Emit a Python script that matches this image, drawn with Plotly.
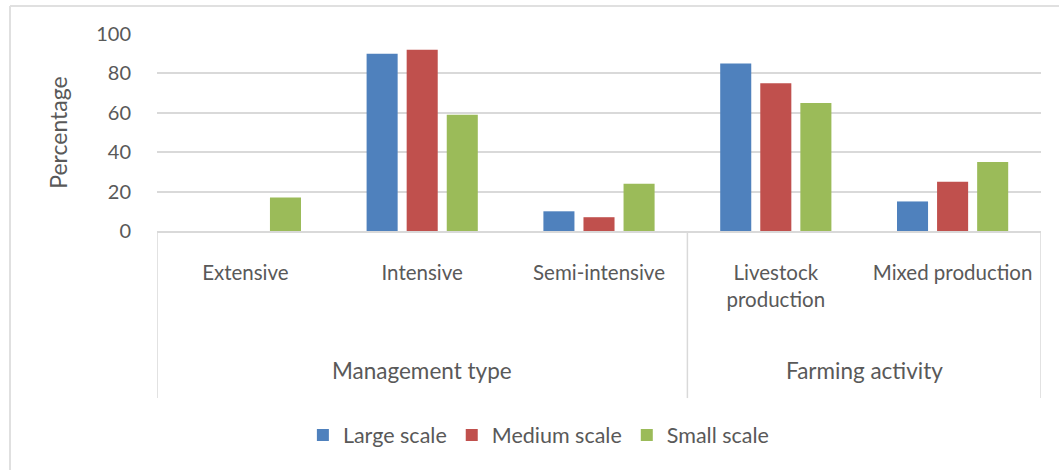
import plotly.graph_objects as go

# Survey results: share of farms (%) by farm scale
categories = ["Extensive", "Intensive", "Semi-intensive", "Livestock<br>production", "Mixed production"]
groups = ["Management type", "Farming activity"]
group_sizes = [3, 2]

large_scale = [0, 90, 10, 85, 15]
medium_scale = [0, 92, 7, 75, 25]
small_scale = [17, 59, 24, 65, 35]

series = [
    ("Large scale", large_scale, "#4F81BD"),
    ("Medium scale", medium_scale, "#C0504D"),
    ("Small scale", small_scale, "#9BBB59"),
]

FONT = "Lato"
TEXT = "#595959"
GRID = "#D9D9D9"

x_idx = list(range(len(categories)))

fig = go.Figure()
for name, vals, color in series:
    fig.add_trace(go.Bar(
        x=x_idx, y=vals, name=name,
        marker=dict(color=color, line=dict(width=0)),
    ))

# group labels and divider lines beneath the category labels
shapes = []
annotations = []
start = 0
bounds = [-0.5]
for g, n in zip(groups, group_sizes):
    end = start + n
    annotations.append(dict(
        x=(start + end - 1) / 2, y=-0.706, xref="x", yref="paper",
        text=g, showarrow=False, yanchor="middle",
        font=dict(family=FONT, size=22.5, color=TEXT),
    ))
    bounds.append(end - 0.5)
    start = end
for b in bounds:
    shapes.append(dict(
        type="line", xref="x", yref="paper", x0=b, x1=b, y0=0, y1=-0.848,
        line=dict(color=GRID, width=1.5),
    ))

# thin frame along the top and left edges of the page
shapes.append(dict(type="line", xref="paper", yref="paper",
                   x0=(10 - 157) / 884, x1=(1059 - 157) / 884,
                   y0=(231 - 6) / 197, y1=(231 - 6) / 197,
                   line=dict(color="#E0E0E0", width=2)))
shapes.append(dict(type="line", xref="paper", yref="paper",
                   x0=(10 - 157) / 884, x1=(10 - 157) / 884,
                   y0=(231 - 6) / 197, y1=(231 - 470) / 197,
                   line=dict(color="#E0E0E0", width=2)))

fig.update_layout(
    width=1059, height=470,
    margin=dict(l=157, r=18, t=34, b=239),
    paper_bgcolor="white", plot_bgcolor="white",
    font=dict(family=FONT, color=TEXT, size=19),
    barmode="group", bargap=0.32, bargroupgap=0.225,
    showlegend=True,
    legend=dict(
        orientation="h", x=0.432, xanchor="center", y=-1.036, yanchor="middle",
        font=dict(family=FONT, size=21.5, color=TEXT),
        itemwidth=30, traceorder="normal",
    ),
    shapes=shapes,
    annotations=annotations,
)
fig.update_xaxes(
    type="linear", range=[-0.5, len(categories) - 0.5],
    tickvals=x_idx, ticktext=categories,
    showgrid=False, zeroline=False,
    showline=True, linecolor=GRID, linewidth=1.5,
    ticks="", ticklabelstandoff=23,
    tickfont=dict(family=FONT, size=20.5, color=TEXT),
)
fig.update_yaxes(
    range=[0, 100], tickvals=[0, 20, 40, 60, 80, 100],
    showgrid=True, gridcolor=GRID, gridwidth=1.5,
    zeroline=False, showline=False, ticks="",
    ticklabelstandoff=25,
    tickfont=dict(family=FONT, size=20, color=TEXT),
    title=dict(text="Percentage", font=dict(family=FONT, size=23, color=TEXT), standoff=22),
)

fig.write_html("out.html")
